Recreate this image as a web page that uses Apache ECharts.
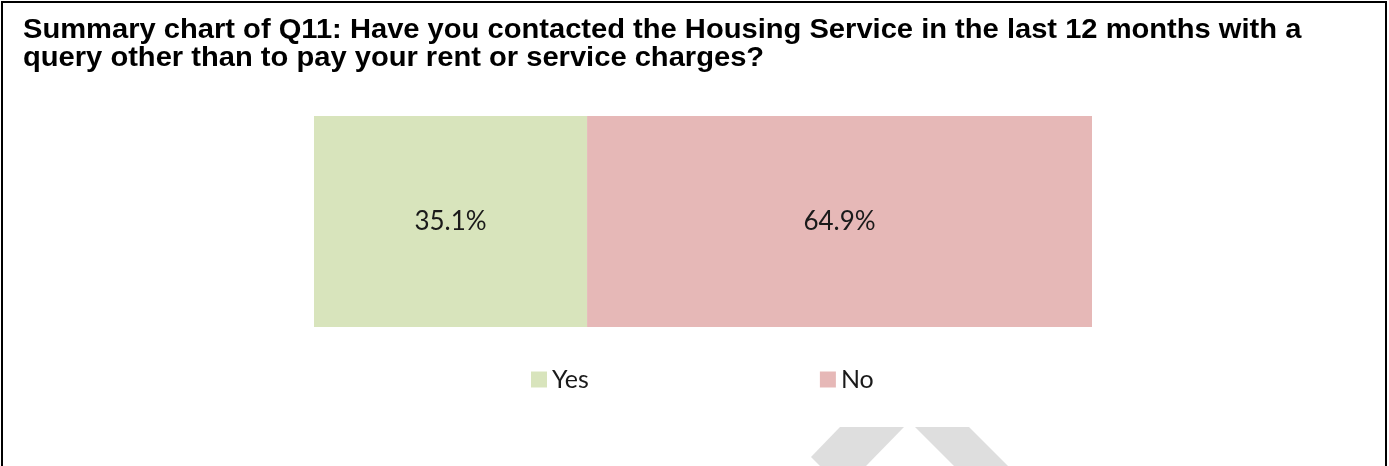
<!DOCTYPE html>
<html>
<head>
<meta charset="utf-8">
<style>
  html, body { margin: 0; padding: 0; background: #ffffff; }
  #chart { width: 1389px; height: 466px; }
</style>
<script src="https://cdn.jsdelivr.net/npm/echarts@6/dist/echarts.min.js"></script>
</head>
<body>
<div id="chart"></div>
<script>
// Survey question and answer shares (percent of respondents)
const titleLines = [
  'Summary chart of Q11: Have you contacted the Housing Service in the last 12 months with a',
  'query other than to pay your rent or service charges?'
];
const answers = ['Yes', 'No'];
const shares = [35.1, 64.9];
const answerColors = ['#D8E4BC', '#E6B8B7'];

const chart = echarts.init(document.getElementById('chart'), null, { renderer: 'canvas' });

const series = answers.map((name, i) => ({
  name: name,
  type: 'bar',
  stack: 'total',
  barWidth: '100%',
  data: [shares[i]],
  itemStyle: { color: answerColors[i] },
  label: {
    show: true,
    position: 'inside',
    formatter: p => p.value.toFixed(1) + '%',
    color: '#1a1a1a',
    fontFamily: 'Lato, "Noto Sans", sans-serif',
    fontSize: 26
  },
  emphasis: { disabled: true }
}));

chart.setOption({
  animation: false,
  backgroundColor: '#ffffff',
  legend: {
    data: answers,
    left: 531,
    top: 367,
    padding: 0,
    itemWidth: 16,
    itemHeight: 16,
    itemGap: 231,
    icon: 'rect',
    selectedMode: false,
    textStyle: {
      fontFamily: 'Lato, "Noto Sans", sans-serif',
      fontSize: 25,
      color: '#1a1a1a'
    }
  },
  grid: { left: 314, top: 116, width: 778, height: 211, containLabel: false },
  xAxis: {
    type: 'value', min: 0, max: 100,
    show: false
  },
  yAxis: {
    type: 'category', data: ['Q11'],
    show: false
  },
  graphic: [
    {
      // Two-line bold heading
      type: 'text', silent: true,
      x: 23, y: 16, scaleX: 1.04,
      style: {
        text: titleLines.join('\n'),
        font: 'bold 28px "Liberation Sans", Arial, sans-serif',
        lineHeight: 28,
        fill: '#000000',
        textVerticalAlign: 'top'
      }
    },
    {
      type: 'rect', z: 100, silent: true,
      shape: { x: 2, y: 2, width: 1384, height: 520 },
      style: { fill: null, stroke: '#000000', lineWidth: 2 }
    },
    {
      type: 'polygon', z: -1, silent: true,
      shape: { points: [[840, 427], [904, 427], [866, 466], [820, 466], [811, 457]] },
      style: { fill: '#DEDEDE' }
    },
    {
      type: 'polygon', z: -1, silent: true,
      shape: { points: [[915, 427], [969, 427], [1008, 466], [954, 466]] },
      style: { fill: '#DEDEDE' }
    }
  ],
  series: series
});
</script>
</body>
</html>
